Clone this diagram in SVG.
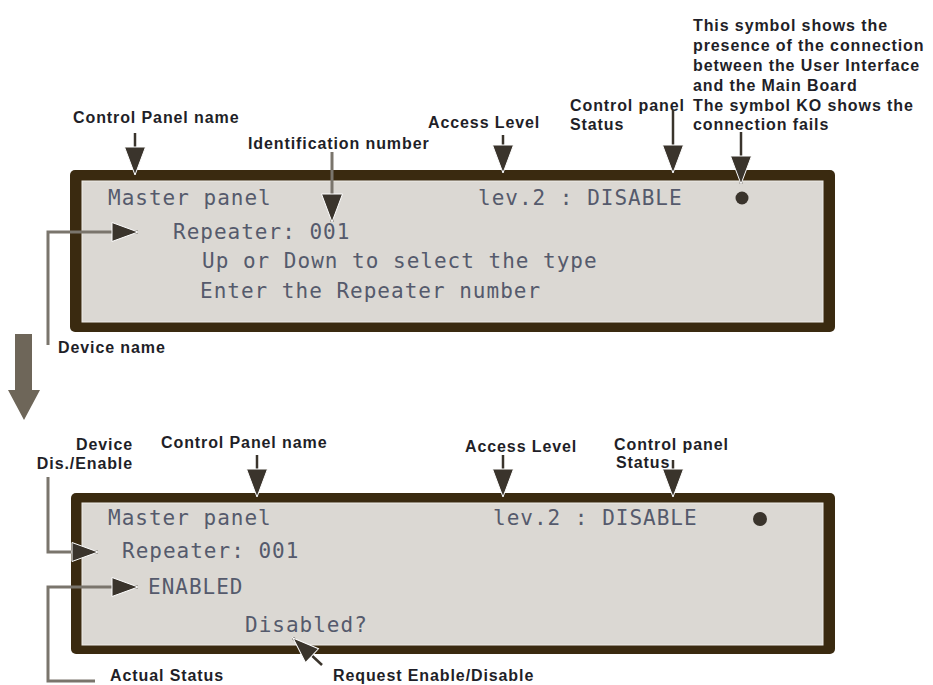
<svg xmlns="http://www.w3.org/2000/svg" width="933" height="685" viewBox="0 0 933 685">
  <style>
    .lbl { font-family: "Liberation Sans", Arial, sans-serif; font-weight: bold; font-size: 16px; letter-spacing: 0.9px; fill: #1f1f28; }
    .lcd { font-family: "DejaVu Sans Mono", "Liberation Mono", monospace; font-size: 21px; letter-spacing: 1px; fill: #555a6c; }
    .frame { fill: #3a2a10; }
    .screen { fill: #dbd8d3; stroke: #efede9; stroke-width: 1; }
    .dark { fill: none; stroke: #3a342c; stroke-width: 2.5; }
    .grey { fill: none; stroke: #7a756c; stroke-width: 3; }
  </style>
  <defs>
    <marker id="ah" markerUnits="userSpaceOnUse" markerWidth="30" markerHeight="24" viewBox="0 0 30 24" refX="29" refY="12" orient="auto">
      <path d="M1,1.5 L29,12 L1,22.5 Z" fill="#3a342c" stroke="#ffffff" stroke-width="1"/>
    </marker>
    <marker id="ahs" markerUnits="userSpaceOnUse" markerWidth="28" markerHeight="22" viewBox="0 0 28 22" refX="27" refY="11" orient="auto">
      <path d="M1,1.5 L27,11 L1,20.5 Z" fill="#3a342c" stroke="#ffffff" stroke-width="1"/>
    </marker>
  </defs>

  <rect width="933" height="685" fill="#ffffff"/>

  <!-- upper display: repeater selection -->
  <g id="panel-top">
    <rect class="frame" x="70" y="170" width="765" height="162" rx="5"/>
    <rect class="screen" x="82" y="181" width="741" height="141"/>
    <text class="lcd" x="108" y="205">Master panel</text>
    <text class="lcd" x="478" y="205">lev.2 : DISABLE</text>
    <circle cx="742" cy="198" r="6.5" fill="#3a342c"/>
    <text class="lcd" x="173" y="239">Repeater: 001</text>
    <text class="lcd" x="202" y="268">Up or Down to select the type</text>
    <text class="lcd" x="200" y="298">Enter the Repeater number</text>
  </g>

  <!-- lower display: enable / disable request -->
  <g id="panel-bottom">
    <rect class="frame" x="71" y="493" width="764" height="161" rx="5"/>
    <rect class="screen" x="82" y="503" width="741" height="142"/>
    <text class="lcd" x="108" y="525">Master panel</text>
    <text class="lcd" x="493" y="525">lev.2 : DISABLE</text>
    <circle cx="760" cy="519" r="7" fill="#3a342c"/>
    <text class="lcd" x="122" y="558">Repeater: 001</text>
    <text class="lcd" x="148" y="594">ENABLED</text>
    <text class="lcd" x="245" y="632">Disabled?</text>
  </g>

  <!-- callout labels, upper display -->
  <g id="labels-top">
    <text class="lbl" x="73" y="123">Control Panel name</text>
    <text class="lbl" x="248" y="149">Identification number</text>
    <text class="lbl" x="428" y="128">Access Level</text>
    <text class="lbl" x="570" y="111">Control panel</text>
    <text class="lbl" x="570" y="130">Status</text>
    <text class="lbl" x="693" y="31">This symbol shows the</text>
    <text class="lbl" x="693" y="51">presence of the connection</text>
    <text class="lbl" x="693" y="71">between the User Interface</text>
    <text class="lbl" x="693" y="91">and the Main Board</text>
    <text class="lbl" x="693" y="111">The symbol KO shows the</text>
    <text class="lbl" x="693" y="130">connection fails</text>
    <text class="lbl" x="58" y="353">Device name</text>
  </g>

  <!-- callout labels, lower display -->
  <g id="labels-bottom">
    <text class="lbl" x="133" y="450" text-anchor="end">Device</text>
    <text class="lbl" x="133" y="469" text-anchor="end">Dis./Enable</text>
    <text class="lbl" x="161" y="448">Control Panel name</text>
    <text class="lbl" x="465" y="452">Access Level</text>
    <text class="lbl" x="614" y="450">Control panel</text>
    <text class="lbl" x="616" y="468">Status</text>
    <text class="lbl" x="110" y="681">Actual Status</text>
    <text class="lbl" x="333" y="681">Request Enable/Disable</text>
  </g>

  <!-- connectors -->
  <g id="connectors">
    <path class="dark" d="M135,133 V175" marker-end="url(#ah)"/>
    <path class="grey" d="M332,152 V222" marker-end="url(#ah)"/>
    <path class="dark" d="M503,135 V173" marker-end="url(#ah)"/>
    <path class="dark" d="M673,110 V173" marker-end="url(#ah)"/>
    <path class="dark" d="M741,132 V184" marker-end="url(#ah)"/>
    <path class="grey" d="M48,345 V232 H138" marker-end="url(#ahs)"/>

    <path d="M15,334 H32 V390 H40 L24,420 L8,390 H15 Z" fill="#6e6659"/>

    <path class="dark" d="M257,455 V497" marker-end="url(#ah)"/>
    <path class="dark" d="M503,455 V497" marker-end="url(#ah)"/>
    <path class="dark" d="M673,460 V497" marker-end="url(#ah)"/>
    <path class="grey" d="M48,477 V552 H98" marker-end="url(#ahs)"/>
    <path class="grey" d="M95,681 H48 V587 H138" marker-end="url(#ahs)"/>
    <path class="dark" d="M322,665 L293,638" marker-end="url(#ahs)"/>
  </g>
</svg>
